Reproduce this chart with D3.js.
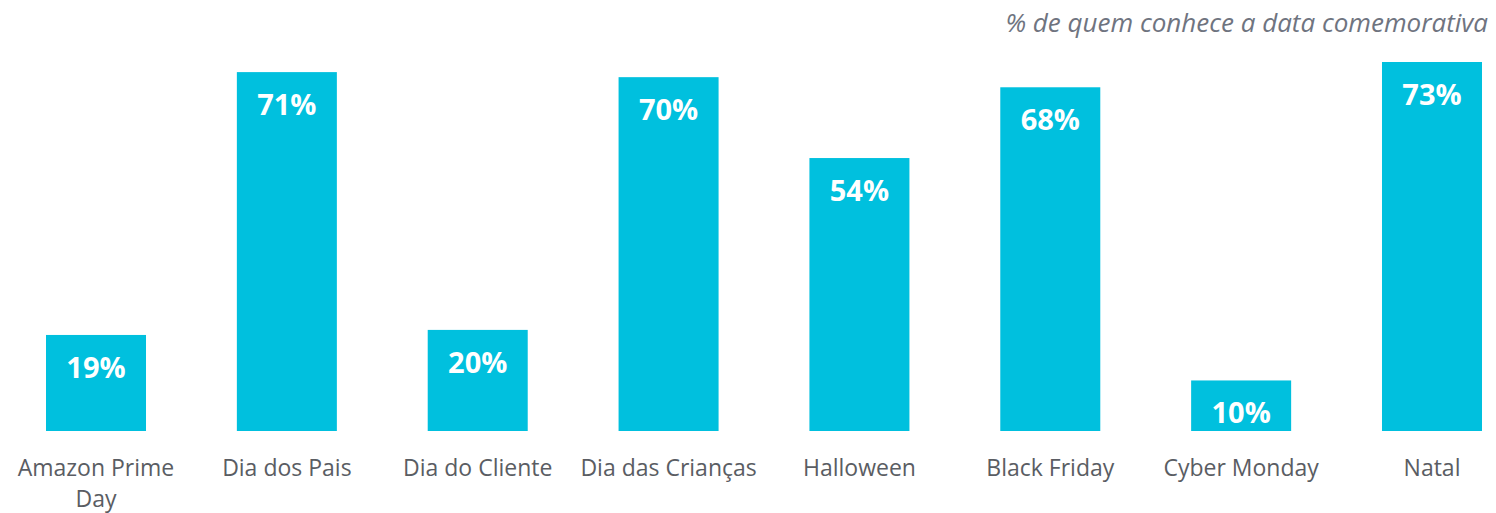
<!DOCTYPE html>
<html><head><meta charset="utf-8">
<script src="https://cdn.jsdelivr.net/npm/d3@7"></script>
<style>body{margin:0;background:#fff}svg{display:block}</style>
</head><body>
<svg id="chart" width="1496" height="513"></svg>
<script>
const categories = ["Amazon Prime Day","Dia dos Pais","Dia do Cliente","Dia das Crianças","Halloween","Black Friday","Cyber Monday","Natal"];
const values = [19,71,20,70,54,68,10,73];
const subtitle = "% de quem conhece a data comemorativa";

const svg = d3.select("#chart");
const font = "'Open Sans', 'Noto Sans', sans-serif";
const x = d3.scaleBand().domain(categories).range([46,1482]).paddingInner(0.476).paddingOuter(0);
const y = d3.scaleLinear().domain([0,73]).range([431,62]);

svg.selectAll("rect.bar").data(values).join("rect")
  .attr("x",(d,i)=>x(categories[i])).attr("y",d=>y(d))
  .attr("width",x.bandwidth()).attr("height",d=>y(0)-y(d))
  .attr("fill","#00C0DE");

svg.selectAll("text.val").data(values).join("text")
  .attr("x",(d,i)=>x(categories[i])+x.bandwidth()/2).attr("y",d=>y(d)+43)
  .attr("text-anchor","middle").attr("fill","#fff")
  .style("font-family",font).style("font-weight","bold").style("font-size","29px")
  .text(d=>d+"%");

const axis = d3.axisBottom(x).tickSize(0).tickPadding(0);
const g = svg.append("g").attr("transform","translate(0,431)").call(axis);
g.select(".domain").remove();
g.selectAll(".tick text").remove();
g.selectAll(".tick").each(function(c){
  const t = d3.select(this).append("text").attr("text-anchor","middle").attr("fill","#5a5d63")
    .style("font-family",font).style("font-size","23px");
  const lines = c==="Amazon Prime Day" ? ["Amazon Prime","Day"] : [c];
  lines.forEach((l,k)=>t.append("tspan").attr("x",0).attr("y",45+k*31).text(l));
});

svg.append("text").attr("x",1488).attr("y",32).attr("text-anchor","end")
  .attr("fill","#6f7480").style("font-family",font).style("font-style","italic").style("font-size","26px")
  .text(subtitle);
</script>
</body></html>
